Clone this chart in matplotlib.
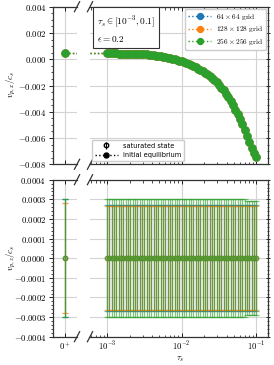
import numpy as np
import matplotlib
matplotlib.use("Agg")
import matplotlib.pyplot as plt
from matplotlib.ticker import AutoMinorLocator, FixedLocator, FuncFormatter, NullFormatter, LogLocator
from matplotlib.lines import Line2D

plt.rcParams["mathtext.fontset"] = "cm"
plt.rcParams["font.family"] = "serif"
plt.rcParams["font.serif"] = ["DejaVu Serif"]

# ── Data ────────────────────────────────────────────────────────────────────
tau_s = [0.001000, 0.001075, 0.001155, 0.001242, 0.001334, 0.001434, 0.001540,
         0.001655, 0.001778, 0.001911, 0.002054, 0.002207, 0.002371, 0.002548,
         0.002738, 0.002943, 0.003162, 0.003398, 0.003652, 0.003924, 0.004217,
         0.004532, 0.004870, 0.005233, 0.005623, 0.006043, 0.006494, 0.006978,
         0.007499, 0.008058, 0.008660, 0.009306, 0.010000, 0.010746, 0.011548,
         0.012409, 0.013335, 0.014330, 0.015399, 0.016548, 0.017783, 0.019110,
         0.020535, 0.022067, 0.023714, 0.025483, 0.027384, 0.029427, 0.031623,
         0.033982, 0.036517, 0.039242, 0.042170, 0.045316, 0.048697, 0.052330,
         0.056234, 0.060430, 0.064938, 0.069783, 0.074989, 0.080584, 0.086596,
         0.093057, 0.100000]

vx_mean = [0.000450, 0.000448, 0.000445, 0.000443, 0.000440, 0.000437, 0.000434,
           0.000430, 0.000427, 0.000423, 0.000418, 0.000414, 0.000409, 0.000404,
           0.000398, 0.000392, 0.000385, 0.000371, 0.000351, 0.000328, 0.000304,
           0.000278, 0.000251, 0.000221, 0.000189, 0.000155, 0.000118, 0.000078,
           0.000035, -0.000011, -0.000060, -0.000113, -0.000170, -0.000231, -0.000297,
           -0.000368, -0.000444, -0.000525, -0.000613, -0.000707, -0.000808, -0.000917,
           -0.001034, -0.001160, -0.001295, -0.001440, -0.001596, -0.001763, -0.001960,
           -0.002160, -0.002380, -0.002620, -0.002890, -0.003180, -0.003500, -0.003850,
           -0.004200, -0.004570, -0.004970, -0.005400, -0.005830, -0.006280, -0.006750,
           -0.007150, -0.007480]
vx_zero = 0.00045          # value at tau_s -> 0+

vz_mean = [0.0] * len(tau_s)
vz_std_64 = [0.00027] * len(tau_s)
vz_std_128 = [0.000265] * len(tau_s)
vz_std_256 = [0.0003] * 60 + [0.00029] * 5
vz_zero_std = [0.0003, 0.00028, 0.0003]

grid_labels = [r"$64\times64$ $\mathrm{grid}$",
               r"$128\times128$ $\mathrm{grid}$",
               r"$256\times256$ $\mathrm{grid}$"]
colors = ["#1f77b4", "#ff7f0e", "#2ca02c"]
vz_stds = [vz_std_64, vz_std_128, vz_std_256]

yticks_top = [0.004, 0.002, 0.0, -0.002, -0.004, -0.006, -0.008]
yticks_bot = [0.0004, 0.0003, 0.0002, 0.0001, 0.0, -0.0001, -0.0002, -0.0003, -0.0004]

# ── Layout ──────────────────────────────────────────────────────────────────
W, H = 274, 365
fig = plt.figure(figsize=(W / 100, H / 100), dpi=100)
ax_tl = fig.add_axes([0.1946, 0.5499, 0.0865, 0.4317])
ax_tr = fig.add_axes([0.3285, 0.5499, 0.6507, 0.4317])
ax_bl = fig.add_axes([0.1946, 0.0775, 0.0865, 0.4302])
ax_br = fig.add_axes([0.3285, 0.0775, 0.6507, 0.4302])

FS = 6.3
GRID = dict(color="#d3d3d3", lw=0.8)


def fmt_tick(v, digits):
    if abs(v) < 1e-12:
        v = 0.0
    s = f"{abs(v):.{digits}f}"
    return f"${{-}}{s}$" if v < 0 else f"${s}$"


for ax in (ax_tl, ax_bl):
    ax.set_xlim(-1, 1)
    ax.spines["right"].set_visible(False)
    ax.xaxis.set_major_locator(FixedLocator([0]))
    ax.xaxis.set_major_formatter(FuncFormatter(lambda v, p: r"$0^+$"))
    ax.tick_params(axis="x", which="both", direction="in", top=True, bottom=True,
                   labelsize=FS, length=3, width=0.6, pad=2.5)
    ax.tick_params(axis="y", which="major", direction="out", left=True, right=False,
                   labelsize=FS, length=3, width=0.6, pad=2)
    ax.tick_params(axis="y", which="minor", direction="out", length=1.8, width=0.5)
    ax.grid(True, which="major", **GRID)
    ax.set_axisbelow(True)

for ax in (ax_tr, ax_br):
    ax.set_xscale("log")
    ax.set_xlim(5.9e-4, 0.145)
    ax.spines["left"].set_visible(False)
    ax.xaxis.set_major_locator(FixedLocator([1e-3, 1e-2, 1e-1]))
    ax.xaxis.set_major_formatter(FuncFormatter(
        lambda v, p: r"$10^{%d}$" % int(round(np.log10(v)))))
    ax.xaxis.set_minor_locator(LogLocator(base=10, subs=np.arange(2, 10)))
    ax.xaxis.set_minor_formatter(NullFormatter())
    ax.tick_params(axis="x", which="both", direction="in", top=True, bottom=True,
                   labelsize=FS, width=0.6, pad=2.5)
    ax.tick_params(axis="x", which="major", length=3)
    ax.tick_params(axis="x", which="minor", length=1.8, width=0.5)
    ax.tick_params(axis="y", which="both", left=False, right=True, labelleft=False,
                   direction="inout", width=0.6)
    ax.tick_params(axis="y", which="major", length=3)
    ax.tick_params(axis="y", which="minor", length=1.8, width=0.5)
    ax.grid(True, which="major", **GRID)
    ax.set_axisbelow(True)

for ax, ticks, nd in ((ax_tl, yticks_top, 3), (ax_tr, yticks_top, 3),
                      (ax_bl, yticks_bot, 4), (ax_br, yticks_bot, 4)):
    ax.set_ylim(min(ticks), max(ticks))
    ax.yaxis.set_major_locator(FixedLocator(ticks))
    ax.yaxis.set_major_formatter(FuncFormatter(lambda v, p, n=nd: fmt_tick(v, n)))
    ax.yaxis.set_minor_locator(AutoMinorLocator())

ax_tl.tick_params(axis="x", labelbottom=False)
ax_tr.tick_params(axis="x", labelbottom=False)

for ax in fig.axes:
    for s in ax.spines.values():
        s.set_linewidth(0.9)
        s.set_color("#333333")


# ── Break marks ─────────────────────────────────────────────────────────────
def break_marks(ax, x):
    bb = ax.get_position()
    dx, dy = 2.6 / (bb.width * W), 5.0 / (bb.height * H)
    kw = dict(transform=ax.transAxes, color="#333333", lw=0.9, clip_on=False)
    for y in (0, 1):
        ax.plot([x - dx, x + dx], [y - dy, y + dy], **kw)


for ax in (ax_tl, ax_bl):
    break_marks(ax, 1.0)
for ax in (ax_tr, ax_br):
    break_marks(ax, 0.0)

# ── Top panel: v_px ─────────────────────────────────────────────────────────
handles = []
for lab, c in zip(grid_labels, colors):
    ln, = ax_tr.plot(tau_s, vx_mean, ls=":", marker="o", ms=5.0, lw=1.0,
                     color=c, label=lab)
    ax_tr.plot([5.9e-4, tau_s[0]], [vx_zero, vx_mean[0]], ls=":", lw=1.0, color=c)
    ax_tl.plot([0, 1], [vx_zero, vx_zero], ls=":", lw=1.0, color=c)
    ax_tl.plot([0], [vx_zero], marker="o", ms=5.0, color=c)
    handles.append(ln)

leg1 = ax_tr.legend(handles=handles, loc="upper right", fontsize=5.3,
                    handlelength=3.2, borderaxespad=0.3, framealpha=1,
                    edgecolor="#cccccc", fancybox=True, borderpad=0.4,
                    labelspacing=0.35, handletextpad=0.6, markerscale=0.85)
ax_tr.add_artist(leg1)

ax_tr.text(0.04, 0.955, "$\\tau_s\\in[10^{-3},0.1]$\n$\\epsilon=0.2$",
           transform=ax_tr.transAxes, ha="left", va="top", fontsize=6.7,
           linespacing=1.55,
           bbox=dict(boxstyle="square,pad=0.4", fc="white", ec="#333333", lw=0.8))

sat = ax_tr.errorbar([np.nan], [np.nan], yerr=[1.0], fmt="o", mfc="none",
                     mec="k", ecolor="k", ms=3.2, elinewidth=0.8, color="k")
init = Line2D([], [], ls=":", color="k", marker="o", ms=3.6, lw=1.0)
ax_tr.legend([sat, init], ["saturated state", "initial equilibrium"],
             loc="lower left", bbox_to_anchor=(0.012, 0.02), borderaxespad=0,
             prop=dict(family="DejaVu Sans", size=4.8), handlelength=3.4,
             framealpha=1, edgecolor="#cccccc", borderpad=0.45, labelspacing=0.5)

# ── Bottom panel: v_pz ──────────────────────────────────────────────────────
for c, std, s0 in zip(colors, vz_stds, vz_zero_std):
    ax_br.errorbar(tau_s, vz_mean, yerr=std, fmt="o", ls=":", lw=1.0, ms=3.0,
                   mfc="none", mec=c, color=c, ecolor=c, elinewidth=0.9,
                   capsize=2.0, capthick=0.9, alpha=0.6)
    ax_bl.errorbar([0], [0.0], yerr=[s0], fmt="o", ms=3.0, mfc="none", mec=c,
                   color=c, ecolor=c, elinewidth=0.9, capsize=2.0, capthick=0.9,
                   alpha=0.8)

# axis labels at fixed pixel positions, as in the reference
fig.text(11 / W, 1 - 85 / H, r"$v_{p,x}/c_s$", rotation=90, fontsize=FS,
         ha="center", va="center")
fig.text(11 / W, 1 - 258 / H, r"$v_{p,z}/c_s$", rotation=90, fontsize=FS,
         ha="center", va="center")
fig.text(180 / W, 1 - 359 / H, r"$\tau_s$", fontsize=FS, ha="center", va="center")

fig.savefig("out.png", dpi=100)
